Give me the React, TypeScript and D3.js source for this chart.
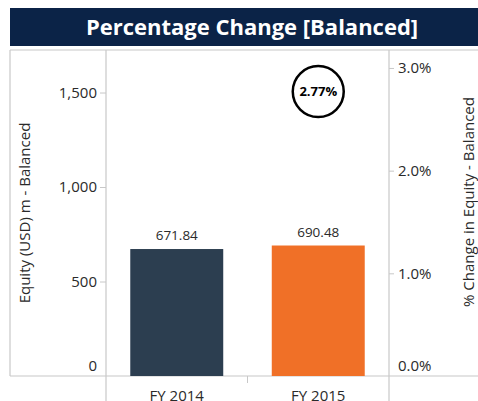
import * as d3 from "d3"
import { useRef, useEffect } from "react"

const categories = ["FY 2014", "FY 2015"]
const equityValues = [671.84, 690.48]
const barColors = ["#2c3e50", "#f07027"]
const pctChange = { category: "FY 2015", value: 2.77 }
const leftTicks = [0, 500, 1000, 1500]
const rightTicks = [0, 1, 2, 3]

const title = "Percentage Change [Balanced]"
const leftTitle = "Equity (USD) m - Balanced"
const rightTitle = "% Change in Equity - Balanced"

const W = 478
const H = 401
const FONT = "'Open Sans', sans-serif"
const GRID = "#c8c8c8"
const TEXT = "#2a2a2a"

export default function App() {
  const svgRef = useRef<SVGSVGElement>(null)

  useEffect(() => {
    if (!svgRef.current) return
    const svg = d3.select(svgRef.current)
    svg.selectAll("*").remove()

    const frameLeft = 10
    const plot = { left: 106, right: 389, top: 50, bottom: 376 }

    // title bar
    svg.append("rect").attr("x", frameLeft).attr("y", 8).attr("width", W - frameLeft).attr("height", 38).attr("fill", "#0b2347")
    svg
      .append("text")
      .attr("x", 252)
      .attr("y", 35)
      .attr("text-anchor", "middle")
      .style("font-family", FONT)
      .style("font-size", "22px")
      .style("font-weight", "bold")
      .style("fill", "#fff")
      .text(title)

    const x = d3
      .scaleBand()
      .domain(categories)
      .range([plot.left, plot.right])
      .paddingInner(0.343)
      .paddingOuter(0.1715)

    const yLeft = d3.scaleLinear().domain([0, 1725]).range([plot.bottom, plot.top])
    const yRight = d3.scaleLinear().domain([0, 3.175]).range([plot.bottom, plot.top])

    // frame lines
    const lines = svg.append("g").attr("stroke", GRID).attr("stroke-width", 1.2)
    lines.append("line").attr("x1", frameLeft).attr("x2", W).attr("y1", plot.top).attr("y2", plot.top)
    lines.append("line").attr("x1", frameLeft).attr("x2", W).attr("y1", plot.bottom).attr("y2", plot.bottom)
    lines.append("line").attr("x1", frameLeft).attr("x2", frameLeft).attr("y1", plot.top).attr("y2", plot.bottom)
    lines.append("line").attr("x1", plot.left).attr("x2", plot.left).attr("y1", plot.top).attr("y2", H)
    lines.append("line").attr("x1", plot.right).attr("x2", plot.right).attr("y1", plot.top).attr("y2", H)

    // bars
    svg
      .append("g")
      .selectAll("rect")
      .data(categories)
      .enter()
      .append("rect")
      .attr("x", (d) => x(d) ?? 0)
      .attr("y", (_d, i) => yLeft(equityValues[i]))
      .attr("width", x.bandwidth())
      .attr("height", (_d, i) => plot.bottom - yLeft(equityValues[i]))
      .attr("fill", (_d, i) => barColors[i])

    svg
      .append("g")
      .selectAll("text")
      .data(categories)
      .enter()
      .append("text")
      .attr("x", (d) => (x(d) ?? 0) + x.bandwidth() / 2)
      .attr("y", (_d, i) => yLeft(equityValues[i]) - 9)
      .attr("text-anchor", "middle")
      .style("font-family", FONT)
      .style("font-size", "13.5px")
      .style("fill", TEXT)
      .text((_d, i) => equityValues[i].toFixed(2))

    // left axis
    svg
      .append("g")
      .attr("transform", `translate(${plot.left},0)`)
      .call(d3.axisLeft(yLeft).tickValues(leftTicks).tickSize(6).tickPadding(3).tickFormat(d3.format(",")))
      .call((g) => g.select(".domain").remove())
      .call((g) => g.selectAll("line").attr("stroke", GRID))
      .call((g) =>
        g
          .selectAll("text")
          .style("font-family", FONT)
          .style("font-size", "15px")
          .style("fill", TEXT)
          .attr("dy", (d) => ((d as number) === 0 ? "-0.35em" : "0.32em")),
      )
    svg.selectAll(".tick").filter((d) => d === 0).select("line").remove()

    // right axis
    const right = svg
      .append("g")
      .attr("transform", `translate(${plot.right},0)`)
      .call(d3.axisRight(yRight).tickValues(rightTicks).tickSize(5).tickPadding(4).tickFormat((d) => `${(d as number).toFixed(1)}%`))
      .call((g) => g.select(".domain").remove())
      .call((g) => g.selectAll("line").attr("stroke", GRID))
      .call((g) =>
        g
          .selectAll("text")
          .style("font-family", FONT)
          .style("font-size", "15px")
          .style("fill", TEXT)
          .attr("dy", (d) => ((d as number) === 0 ? "-0.35em" : "0.32em")),
      )
    right.selectAll(".tick").filter((d) => d === 0).select("line").remove()

    // bottom axis
    svg
      .append("g")
      .attr("transform", `translate(0,${plot.bottom})`)
      .call(d3.axisBottom(x).tickSize(0).tickPadding(14))
      .call((g) => g.select(".domain").remove())
      .call((g) => g.selectAll("text").style("font-family", FONT).style("font-size", "15px").style("fill", TEXT))
    svg
      .append("line")
      .attr("x1", (plot.left + plot.right) / 2)
      .attr("x2", (plot.left + plot.right) / 2)
      .attr("y1", plot.bottom)
      .attr("y2", plot.bottom + 7)
      .attr("stroke", GRID)

    // axis titles
    svg
      .append("text")
      .attr("transform", `translate(30,213) rotate(-90)`)
      .attr("text-anchor", "middle")
      .style("font-family", FONT)
      .style("font-size", "15px")
      .style("fill", TEXT)
      .text(leftTitle)
    svg
      .append("text")
      .attr("transform", `translate(473.5,202) rotate(-90)`)
      .attr("text-anchor", "middle")
      .style("font-family", FONT)
      .style("font-size", "15px")
      .style("fill", TEXT)
      .text(rightTitle)

    // percentage change marker
    const cx = (x(pctChange.category) ?? 0) + x.bandwidth() / 2
    const cy = yRight(pctChange.value)
    svg.append("circle").attr("cx", cx).attr("cy", cy).attr("r", 25.5).attr("fill", "#fff").attr("stroke", "#000").attr("stroke-width", 2.5)
    svg
      .append("text")
      .attr("x", cx)
      .attr("y", cy)
      .attr("dy", "0.35em")
      .attr("text-anchor", "middle")
      .style("font-family", FONT)
      .style("font-size", "13px")
      .style("font-weight", "bold")
      .style("fill", "#000")
      .text(`${pctChange.value.toFixed(2)}%`)
  }, [])

  return (
    <div style={{ position: "absolute", left: 0, top: 0 }}>
      <svg ref={svgRef} width={W} height={H} style={{ display: "block" }}></svg>
    </div>
  )
}
